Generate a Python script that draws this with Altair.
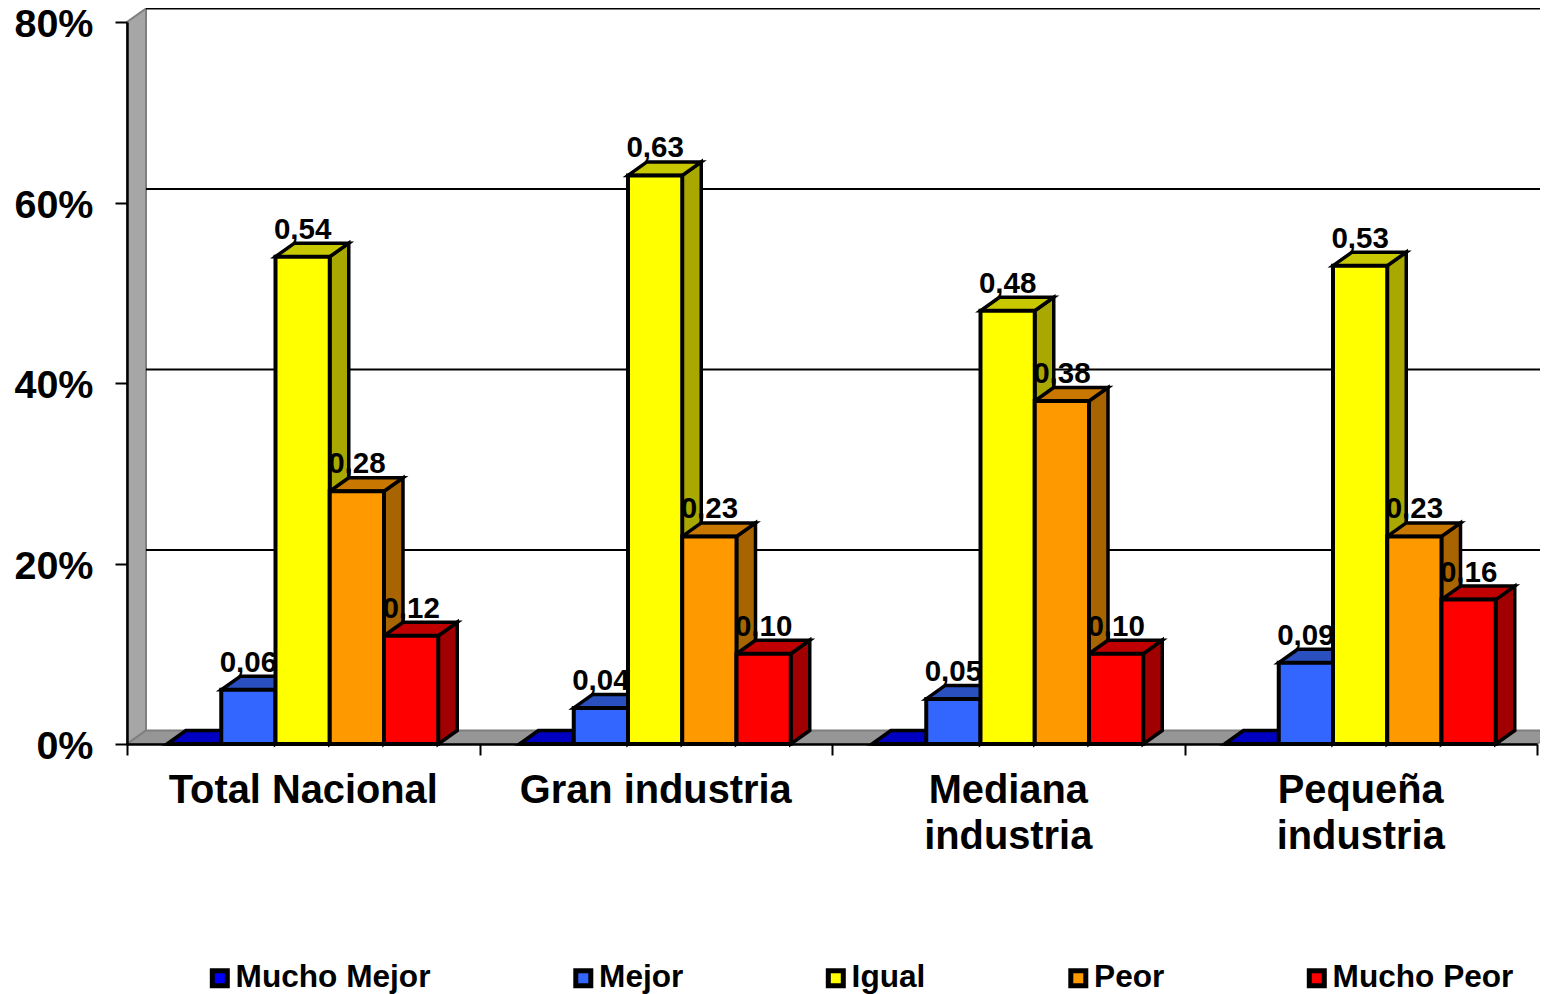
import altair as alt
import pandas as pd

categories = ["Total Nacional", "Gran industria", "Mediana\nindustria", "Pequeña\nindustria"]
series = ["Mucho Mejor", "Mejor", "Igual", "Peor", "Mucho Peor"]
mucho_mejor = [0.0, 0.0, 0.0, 0.0]
mejor = [6, 4, 5, 9]
igual = [54, 63, 48, 53]
peor = [28, 23, 38, 23]
mucho_peor = [12, 10, 10, 16]
value_labels = [[None, "0,06", "0,54", "0,28", "0,12"],
                [None, "0,04", "0,63", "0,23", "0,10"],
                [None, "0,05", "0,48", "0,38", "0,10"],
                [None, "0,09", "0,53", "0,23", "0,16"]]
y_ticks = [0, 20, 40, 60, 80]
front_colors = ["#0000FF", "#3366FF", "#FFFF00", "#FF9900", "#FF0000"]
top_colors = ["#0000C0", "#2A50C0", "#C8C800", "#C87800", "#C00000"]
side_colors = ["#0000A0", "#2244A0", "#A8A800", "#A86400", "#A00000"]

PW, PH = 1410, 722
PX_X = 4 / PW          # category units per pixel
PX_Y = 80 / PH         # percent per pixel
DX = 19 * PX_X
DY = 13.5 * PX_Y
GAP = 40 * PX_X
BW = 54.25 * PX_X

all_values = [mucho_mejor, mejor, igual, peor, mucho_peor]
fronts, sides, tops, labels = [], [], [], []
for c in range(len(categories)):
    for s, name in enumerate(series):
        v = all_values[s][c]
        L = c + GAP + s * BW
        R = L + BW
        key = f"{c}-{s}"
        fronts.append(dict(series=name, L=L, R=R, v=v))
        sides.append(dict(key=key, x=R, y=0, y2=v, col=side_colors[s]))
        sides.append(dict(key=key, x=R + DX, y=DY, y2=v + DY, col=side_colors[s]))
        tops.append(dict(key=key, y=v, x=L, x2=R, col=top_colors[s]))
        tops.append(dict(key=key, y=v + DY, x=L + DX, x2=R + DX, col=top_colors[s]))
        if value_labels[c][s]:
            labels.append(dict(x=(L + R) / 2, v=v, t=value_labels[c][s]))

xs = alt.Scale(domain=[0, 4], nice=False, zero=False)
ys = alt.Scale(domain=[0, 80], nice=False, zero=True)
x_axis = alt.Axis(
    values=[0, 1, 2, 3, 4], labels=False, title=None, grid=False, tickColor="black",
    tickWidth=2, tickSize=11, domainColor="black", domainWidth=2.5, zindex=1)
y_axis = alt.Axis(
    values=y_ticks, title=None, grid=False, labelExpr="datum.value + '%'",
    labelFont="Liberation Sans", labelFontWeight="bold", labelFontSize=39.5, labelColor="black",
    labelPadding=22, labelOffset=2.5, tickColor="black", tickWidth=2, tickSize=12,
    domainColor="black", domainWidth=2.5, zindex=1)
X = lambda f: alt.X(f, type="quantitative", scale=xs, axis=x_axis)
Y = lambda f: alt.Y(f, type="quantitative", scale=ys, axis=y_axis)

wall = alt.Chart(pd.DataFrame([dict(x=0, y=0, y2=80), dict(x=DX, y=DY, y2=80 + DY)])).mark_area(
    orient="vertical", fill="#A6A6A6", stroke="#7F7F7F", strokeWidth=2, clip=False
).encode(x=X("x"), y=Y("y"), y2="y2")
floor = alt.Chart(pd.DataFrame([dict(y=0, x=0, x2=4), dict(y=DY, x=DX, x2=4 + DX)])).mark_area(
    orient="horizontal", fill="#969696", stroke="#7F7F7F", strokeWidth=2, clip=False
).encode(y=Y("y"), x=X("x"), x2="x2")
grid = alt.Chart(pd.DataFrame({"g": [t + DY for t in y_ticks[1:]]})).transform_calculate(
    a=str(DX), b=str(4 + DX)
).mark_rule(color="black", strokeWidth=2).encode(y=Y("g"), x=X("a:Q"), x2="b:Q")

side = alt.Chart(pd.DataFrame(sides)).mark_area(
    orient="vertical", stroke="black", strokeWidth=3.5, strokeJoin="miter"
).encode(x=X("x"), y=Y("y"), y2="y2", fill=alt.Fill("col:N", scale=None), detail="key:N")
top = alt.Chart(pd.DataFrame(tops)).mark_area(
    orient="horizontal", stroke="black", strokeWidth=3.5, strokeJoin="miter"
).encode(y=Y("y"), x=X("x"), x2="x2", fill=alt.Fill("col:N", scale=None), detail="key:N")
vals = alt.Chart(pd.DataFrame(labels)).mark_text(
    font="Liberation Sans", fontWeight="bold", fontSize=29.5, color="black", dy=-18, baseline="alphabetic"
).encode(x=X("x"), y=Y("v"), text="t:N")
front = alt.Chart(pd.DataFrame(fronts)).mark_rect(stroke="black", strokeWidth=4).encode(
    x=X("L"), x2="R", y=Y("v"), y2=alt.Y2(datum=0),
    fill=alt.Fill("series:N", scale=alt.Scale(domain=series, range=front_colors), legend=alt.Legend(
        title=None, orient="none", legendX=77, legendY=940, direction="horizontal", columns=5,
        columnPadding=134.5, symbolType="square", symbolSize=225, symbolStrokeColor="black",
        symbolStrokeWidth=5, symbolOpacity=1, labelFont="Liberation Sans", labelFontWeight="bold",
        labelFontSize=31.6, labelColor="black", labelOffset=0, labelLimit=400,
        padding=0)),
)
cat_df = pd.DataFrame({"x": [i + 0.5 for i in range(len(categories))], "t": categories})
cats = alt.Chart(cat_df).mark_text(
    font="Liberation Sans", fontWeight="bold", fontSize=39.8, color="black", lineBreak="\n",
    lineHeight=46, baseline="alphabetic", align="center"
).encode(x=X("x"), y=alt.value(781), text="t:N")

chart = alt.layer(wall, floor, grid, side, top, vals, front, cats).properties(
    width=PW, height=PH, padding={"left": 119, "top": 14, "right": 3, "bottom": 250},
    autosize=alt.AutoSizeParams(type="none"),
    background="white",
).configure_view(stroke=None)

chart.save("out.html", embed_options={"renderer": "svg", "actions": False})
